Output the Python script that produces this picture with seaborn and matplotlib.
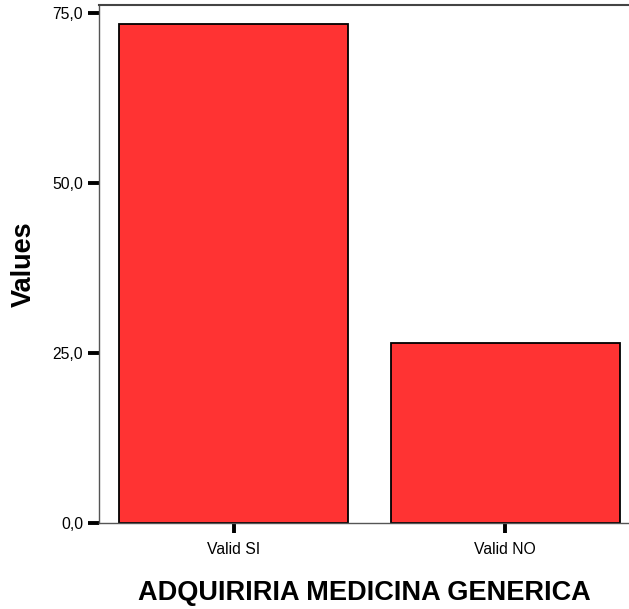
import matplotlib
matplotlib.use("Agg")
import matplotlib.pyplot as plt
import matplotlib.ticker as mticker
import seaborn as sns

# --- data ---
categories = ["Valid SI", "Valid NO"]
values = [73.5, 26.5]
y_ticks = [0, 25, 50, 75]

sns.set_style("white")
plt.rcParams["font.family"] = ["Liberation Sans", "DejaVu Sans"]
plt.rcParams["text.color"] = "black"
plt.rcParams["axes.labelcolor"] = "black"
plt.rcParams["xtick.color"] = "black"
plt.rcParams["ytick.color"] = "black"

fig = plt.figure(figsize=(6.29, 6.09), dpi=100)
ax = fig.add_axes([0.158, 0.1404, 0.842, 0.8522])

sns.barplot(x=categories, y=values, color="#FF3333", saturation=1,
            width=0.844, edgecolor="black", linewidth=1.3, ax=ax)

ax.set_xlim(-0.495, 1.457)
ax.set_ylim(0, 76.3)
ax.set_yticks(y_ticks)
ax.yaxis.set_major_formatter(
    mticker.FuncFormatter(lambda v, p: f"{v:.1f}".replace(".", ",")))

ax.tick_params(axis="both", direction="out", length=8, width=2.8,
               color="black", labelcolor="black", labelsize=11.3, pad=3.6,
               bottom=True, left=True)
ax.tick_params(axis="x", length=7.5, pad=5.5)

for side in ["left", "bottom"]:
    ax.spines[side].set_color("#555555")
    ax.spines[side].set_linewidth(1.0)
ax.spines["top"].set_color("#444444")
ax.spines["top"].set_linewidth(1.5)
ax.spines["right"].set_visible(False)

ax.set_xlabel("ADQUIRIRIA MEDICINA GENERICA", fontsize=19.5,
              fontweight="bold", color="black", va="center")
ax.xaxis.set_label_coords(0.5, -0.134)
ax.set_ylabel("Values", fontsize=19.5, fontweight="bold", color="black",
              va="center")
ax.yaxis.set_label_coords(-0.142, 0.5)

fig.savefig("out.png", dpi=100)
